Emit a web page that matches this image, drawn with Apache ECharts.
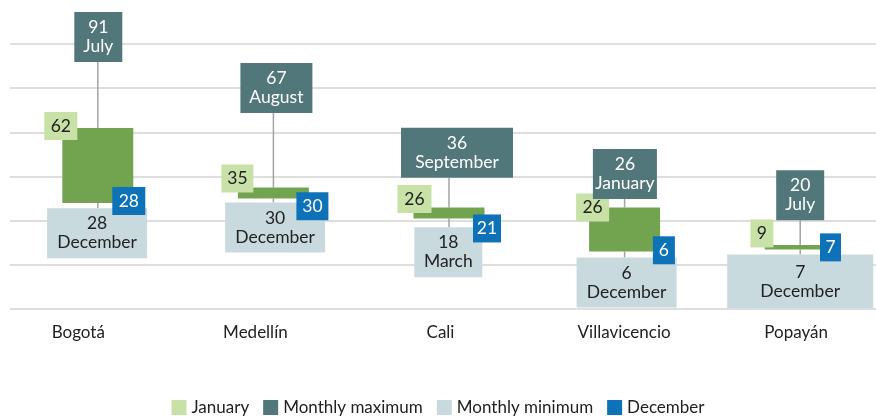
<!DOCTYPE html>
<html>
<head>
<meta charset="utf-8">
<script src="https://cdn.jsdelivr.net/npm/echarts@6/dist/echarts.min.js"></script>
<style>
  html, body { margin: 0; padding: 0; background: #fff; }
  #chart { width: 876px; height: 416px; }
</style>
</head>
<body>
<div id="chart"></div>
<script>
// values
const cities = ["Bogotá", "Medellín", "Cali", "Villavicencio", "Popayán"];
const janValues = [62, 35, 26, 26, 9];
const decValues = [28, 30, 21, 6, 7];
const maxValues = [91, 67, 36, 26, 20];
const maxMonths = ["July", "August", "September", "January", "July"];
const minValues = [28, 30, 18, 6, 7];
const minMonths = ["December", "December", "March", "December", "December"];

// hand placement of the label boxes (pixels), as in the original
const maxBoxWidth = [48, 72, 112, 64, 48];
const maxLift = [2, 4, 7.5, 8.5, 0.5];
const maxShiftX = [0.5, 3, 8, 0.3, 0];
const minBoxWidth = [100, 100, 68, 100, 146];
const minDrop = [5.3, 3.9, 2.1, 5.9, 5.2];
const minShiftX = [-0.7, 1.7, -0.7, 2, 0];
const janBoxWidth = [33, 32, 34, 33, 23];
const janShift = [[-37, -2], [-36, -9], [-34.5, -8.4], [-32, 0], [-38.3, -11.5]];
const decBoxWidth = [33, 32, 28, 22, 21];
const decShift = [[31, -2], [39, 7.6], [38, 10], [39.3, -1.3], [30.3, -2]];
const catShift = [39, 36, 17, 1, 8];

const COLORS = {
  jan: "#c8e1a7",
  bar: "#72a34f",
  max: "#52777a",
  min: "#c9dadf",
  dec: "#0e72b9",
  whisker: "#a3a3a3",
  text: "#222222",
};
const FONT = "Lato, 'Open Sans', sans-serif";
const BOX_FONT = 17.5;

const chart = echarts.init(document.getElementById("chart"));

const candleData = cities.map((c, i) => [i, janValues[i], decValues[i], minValues[i], maxValues[i]]);

const labelSeries = (name, color, data, label) => ({
  name,
  type: "scatter",
  symbolSize: 0,
  color,
  itemStyle: { opacity: 1 },
  emphasis: { disabled: true },
  data,
  label: Object.assign(
    {
      show: true,
      backgroundColor: color,
      fontSize: BOX_FONT,
      fontFamily: FONT,
      align: "center",
      opacity: 1,
    },
    label
  ),
});

const options = {
  animation: false,
  textStyle: { fontFamily: FONT },
  // the plot runs a little past the right edge of the canvas
  grid: { left: 10, width: 878, top: 44, bottom: 107, outerBoundsMode: "none", containLabel: false },
  legend: {
    top: 398,
    left: "center",
    padding: 0,
    icon: "rect",
    itemWidth: 15,
    itemHeight: 15,
    itemGap: 14,
    textStyle: { fontSize: 17, lineHeight: 19, color: COLORS.text, fontFamily: FONT },
    data: ["January", "Monthly maximum", "Monthly minimum", "December"],
  },
  xAxis: {
    type: "category",
    data: cities,
    axisLine: { show: false },
    axisTick: { show: false },
    axisLabel: {
      margin: 15,
      fontSize: 17,
      color: COLORS.text,
      formatter: (value, idx) => `{c${idx}|${value}}`,
      rich: Object.fromEntries(
        catShift.map((p, i) => [`c${i}`, { fontSize: 17, color: COLORS.text, fontFamily: FONT, padding: [0, p, 0, 0] }])
      ),
    },
  },
  yAxis: {
    type: "value",
    min: -20,
    max: 100,
    interval: 20,
    axisLabel: { show: false },
    axisLine: { show: false },
    axisTick: { show: false },
    splitLine: { lineStyle: { color: "#d3d3d3", width: 1.5 } },
  },
  series: [
    {
      name: "range",
      type: "custom",
      data: candleData,
      encode: { x: 0, y: [1, 2, 3, 4] },
      renderItem: (params, api) => {
        const i = api.value(0);
        const open = api.value(1);
        const close = api.value(2);
        const top = api.coord([i, Math.max(open, close)]);
        const bottom = api.coord([i, Math.min(open, close)]);
        const lo = api.coord([i, api.value(3)]);
        const hi = api.coord([i, api.value(4)]);
        const w = api.size([1, 0])[0] * 0.404;
        return {
          type: "group",
          children: [
            {
              type: "line",
              shape: { x1: top[0], y1: hi[1] - maxLift[i], x2: top[0], y2: top[1] },
              style: { stroke: COLORS.whisker, lineWidth: 1.5 },
            },
            {
              type: "line",
              shape: { x1: top[0], y1: bottom[1], x2: top[0], y2: Math.max(bottom[1], lo[1] + minDrop[i]) },
              style: { stroke: COLORS.whisker, lineWidth: 1.5 },
            },
            {
              type: "rect",
              shape: { x: top[0] - w / 2, y: top[1], width: w, height: Math.max(bottom[1] - top[1], 1) },
              style: { fill: COLORS.bar },
            },
          ],
        };
      },
    },
    labelSeries(
      "January",
      COLORS.jan,
      janValues.map((v, i) => ({ value: [i, v], label: { offset: janShift[i], width: janBoxWidth[i] } })),
      {
        position: "inside",
        formatter: (p) => janValues[p.dataIndex],
        color: COLORS.text,
        lineHeight: 20,
        padding: [4, 0],
      }
    ),
    labelSeries(
      "Monthly maximum",
      COLORS.max,
      maxValues.map((v, i) => ({
        value: [i, v],
        label: { distance: maxLift[i], offset: [maxShiftX[i], 0], width: maxBoxWidth[i] },
      })),
      {
        position: "top",
        formatter: (p) => `${maxValues[p.dataIndex]}\n${maxMonths[p.dataIndex]}`,
        color: "#ffffff",
        lineHeight: 19,
        padding: [6, 0],
      }
    ),
    labelSeries(
      "Monthly minimum",
      COLORS.min,
      minValues.map((v, i) => ({
        value: [i, v],
        label: {
          distance: minDrop[i],
          offset: [minShiftX[i], 0],
          width: minBoxWidth[i],
          padding: i === 4 ? [8, 0] : [6, 0],
        },
      })),
      {
        position: "bottom",
        formatter: (p) => `${minValues[p.dataIndex]}\n${minMonths[p.dataIndex]}`,
        color: COLORS.text,
        lineHeight: 19,
        padding: [6, 0],
      }
    ),
    labelSeries(
      "December",
      COLORS.dec,
      decValues.map((v, i) => ({ value: [i, v], label: { offset: decShift[i], width: decBoxWidth[i] } })),
      {
        position: "inside",
        formatter: (p) => decValues[p.dataIndex],
        color: "#ffffff",
        lineHeight: 20,
        padding: [4, 0],
      }
    ),
  ],
};

chart.setOption(options);
</script>
</body>
</html>
